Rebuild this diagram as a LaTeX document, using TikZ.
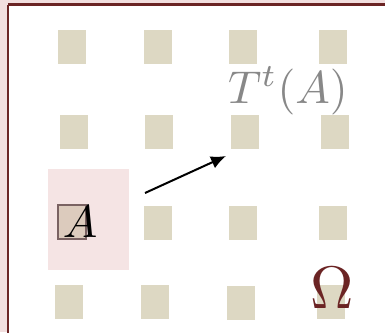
\documentclass[tikz,border=0pt]{standalone}
\usepackage{graphicx}
\usetikzlibrary{arrows.meta}
\definecolor{outerpink}{HTML}{F2DEDE}
\definecolor{framered}{HTML}{6B2424}
\definecolor{cell}{HTML}{DDD8C3}
\definecolor{regionpink}{HTML}{F5E4E4}
\definecolor{acell}{HTML}{DCCBBD}
\definecolor{aborder}{HTML}{7A6262}
\definecolor{labelgray}{HTML}{888888}
\tikzset{
  bigmath/.style={inner sep=0pt},
}
\begin{document}
\begin{tikzpicture}[x=1pt, y=-1pt]
\useasboundingbox (0,0) rectangle (385,332);
\fill[outerpink] (0,0) rectangle (385,332);
\fill[white] (7.75,4.5) rectangle (390,340);
\draw[framered, line width=2.5pt] (7.75,4.5) -- (390,4.5);
\draw[framered, line width=2.5pt] (7.75,4.5) -- (7.75,340);
% pink region
\fill[regionpink] (48,169) rectangle (129,270);
% cells
\foreach \x/\y in {58/30,144/30,229/30,319/30,
                   60/115,145/115,231/115,321/115,
                   144/206,229/206,319/206,
                   55/285,141/285,227/286,317/285}
  \fill[cell] (\x,\y) rectangle ++(28,34);
% set A cell
\draw[fill=acell, draw=aborder, line width=1.3pt] (58,205) rectangle (86,239);
\node[bigmath, anchor=base] (A) at (80,237) {\scalebox{4.6}{$A$}};
\node[bigmath, anchor=base, text=labelgray] (TA) at (288,103) {\scalebox{4.6}{$T^t(A)$}};
\node[bigmath, anchor=base, text=framered] (Om) at (332,308) {\scalebox{6}{$\Omega$}};
\coordinate (s) at (145,193);
\coordinate (e) at (226,156);
\draw[line width=2pt, -{Latex[length=15pt, width=13pt]}] (s) -- (e);
\end{tikzpicture}
\end{document}
